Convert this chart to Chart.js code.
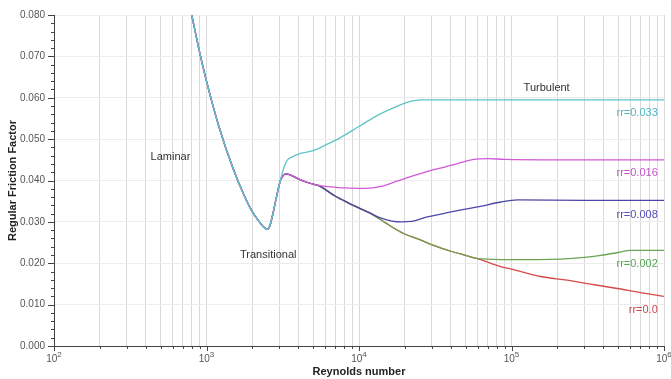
<!DOCTYPE html>
<html>
<head>
<meta charset="utf-8">
<script src="https://cdn.jsdelivr.net/npm/chart.js@4.4.1/dist/chart.umd.min.js"></script>
<style>
  html, body { margin: 0; padding: 0; background: #fff; }
</style>
</head>
<body>
<canvas id="friction-chart" width="671" height="379"></canvas>
<script>
// laminar branch and the dip through transition, same for every roughness
const reShared = [800, 900, 1000, 1200, 1500, 1800, 2000, 2200, 2350, 2500, 2600, 2750, 2900, 3050];
const fShared = [0.0800, 0.0711, 0.0640, 0.0533, 0.0427, 0.0357, 0.0324, 0.0302, 0.0289, 0.0282, 0.0290, 0.0326, 0.0366, 0.0400];

// roughest pipe climbs straight to its plateau
const reCyan = [3200, 3370, 3600, 4000, 5000, 6300, 7500, 8800, 11000, 13800, 17900, 21700, 25200, 40000, 100000, 400000, 1000000];
const fCyan = [0.0428, 0.0448, 0.0456, 0.0464, 0.0472, 0.0489, 0.0503, 0.0518, 0.0540, 0.0561, 0.0580, 0.0591, 0.0595, 0.0595, 0.0595, 0.0595, 0.0595];

// small hump after transition for the smoother pipes
const reHump = [3150, 3300, 3500, 4000, 4450, 5000, 5400];
const fHump = [0.0410, 0.0416, 0.0414, 0.0404, 0.0397, 0.0391, 0.0388];

const rePink = [6000, 8150, 11000, 14000, 17900, 22000, 29400, 36000, 44300, 56400, 69600, 90000, 200000, 1000000];
const fPink = [0.0386, 0.0382, 0.0381, 0.0386, 0.0399, 0.0410, 0.0424, 0.0432, 0.0441, 0.0451, 0.0453, 0.0451, 0.0450, 0.0450];

// falling branch shared by rr=0.008, 0.002 and smooth
const reDesc = [7000, 8500, 10200, 12000];
const fDesc = [0.0362, 0.0346, 0.0332, 0.0320];

const rePurple = [14000, 16500, 19000, 22000, 28000, 35800, 45000, 59900, 85000, 110000, 300000, 1000000];
const fPurple = [0.0309, 0.0302, 0.0300, 0.0301, 0.0312, 0.0320, 0.0328, 0.0336, 0.0348, 0.0353, 0.0352, 0.0352];

// rr=0.002 and smooth stay together down to about 6e4
const reLow = [15000, 19600, 25000, 30800, 40000, 50000, 60000];
const fLow = [0.0297, 0.0272, 0.0257, 0.0243, 0.0229, 0.0219, 0.0211];

const reGreen = [85000, 150000, 209000, 300000, 385000, 500000, 603000, 1000000];
const fGreen = [0.0209, 0.0209, 0.0210, 0.0214, 0.0219, 0.0226, 0.0231, 0.0231];

const reRed = [85000, 100000, 155000, 232000, 350000, 494000, 700000, 1000000];
const fRed = [0.0192, 0.0186, 0.0168, 0.0159, 0.0148, 0.0139, 0.0129, 0.0120];

const seriesNames = ['rr=0.033', 'rr=0.016', 'rr=0.008', 'rr=0.002', 'rr=0.0'];
const regionNames = ['Laminar', 'Transitional', 'Turbulent'];
const decadeExponents = ['2', '3', '4', '5', '6'];

const FONT = '"Liberation Sans", Arial, sans-serif';

function pts(xs, ys) {
  return xs.map((x, i) => ({ x: x, y: ys[i] }));
}

function line(name, color, parts) {
  let data = [];
  parts.forEach(p => { data = data.concat(pts(p[0], p[1])); });
  return {
    label: name,
    data: data,
    borderColor: color,
    backgroundColor: color,
    borderWidth: 1.3,
    pointRadius: 0,
    cubicInterpolationMode: 'monotone',
    fill: false
  };
}

const shared = [reShared, fShared];
const hump = [reHump, fHump];
const desc = [reDesc, fDesc];
const low = [reLow, fLow];

const datasets = [
  line(seriesNames[0], '#5ec3c6', [shared, [reCyan, fCyan]]),
  line(seriesNames[1], '#cf5ad6', [shared, hump, [rePink, fPink]]),
  line(seriesNames[2], '#4c47a8', [shared, hump, desc, [rePurple, fPurple]]),
  line(seriesNames[3], '#6aa552', [shared, hump, desc, low, [reGreen, fGreen]]),
  line(seriesNames[4], '#d64a4a', [shared, hump, desc, low, [reRed, fRed]])
];

// text placed in data space: [text, Re, f, color, align]
const notes = [
  [regionNames[0], 580, 0.0458, '#333', 'center'],
  [regionNames[1], 2540, 0.0219, '#333', 'center'],
  [regionNames[2], 170000, 0.0624, '#333', 'center'],
  [seriesNames[0], 910000, 0.0564, '#55b6c2', 'right'],
  [seriesNames[1], 910000, 0.0419, '#c455c8', 'right'],
  [seriesNames[2], 910000, 0.0316, '#5550b2', 'right'],
  [seriesNames[3], 910000, 0.0198, '#5aa55a', 'right'],
  [seriesNames[4], 910000, 0.0087, '#d04848', 'right']
];

const notesPlugin = {
  id: 'notes',
  afterDatasetsDraw(chart) {
    const ctx = chart.ctx;
    const x = chart.scales.x, y = chart.scales.y;
    ctx.save();
    ctx.font = '11px ' + FONT;
    ctx.textBaseline = 'middle';
    notes.forEach(n => {
      ctx.fillStyle = n[3];
      ctx.textAlign = n[4];
      ctx.fillText(n[0], x.getPixelForValue(n[1]), y.getPixelForValue(n[2]));
    });
    ctx.restore();
  }
};

// short tick marks outside the axes, longer ones on the labelled values,
// plus the 10^n labels with a raised exponent
const tickMarks = {
  id: 'tickMarks',
  afterDraw(chart) {
    const ctx = chart.ctx;
    const x = chart.scales.x, y = chart.scales.y;
    ctx.save();
    ctx.strokeStyle = '#444';
    ctx.lineWidth = 1;
    ctx.beginPath();
    x.ticks.forEach(t => {
      const px = Math.round(x.getPixelForValue(t.value)) + 0.5;
      const e = Math.log10(t.value);
      const len = Math.abs(e - Math.round(e)) < 1e-6 ? 5 : 3;
      ctx.moveTo(px, y.bottom);
      ctx.lineTo(px, y.bottom + len);
    });
    for (let i = 0; i <= 40; i++) {
      const py = Math.round(y.getPixelForValue(i * 0.002)) + 0.5;
      const len = i % 5 === 0 ? 6 : 3;
      ctx.moveTo(x.left, py);
      ctx.lineTo(x.left - len, py);
    }
    ctx.stroke();

    ctx.fillStyle = '#555';
    ctx.textBaseline = 'alphabetic';
    ctx.textAlign = 'left';
    decadeExponents.forEach((ex, i) => {
      const px = x.getPixelForValue(Math.pow(10, i + 2));
      ctx.font = '10px ' + FONT;
      const w1 = ctx.measureText('10').width;
      ctx.font = '8px ' + FONT;
      const w2 = ctx.measureText(ex).width;
      const left = px - (w1 + w2) / 2;
      ctx.font = '10px ' + FONT;
      ctx.fillText('10', left, y.bottom + 16);
      ctx.font = '8px ' + FONT;
      ctx.fillText(ex, left + w1, y.bottom + 11);
    });
    ctx.restore();
  }
};

new Chart(document.getElementById('friction-chart'), {
  type: 'line',
  data: { datasets: datasets },
  plugins: [notesPlugin, tickMarks],
  options: {
    responsive: false,
    animation: false,
    parsing: false,
    layout: { padding: { top: 14, right: 7, left: 0, bottom: 0 } },
    plugins: {
      legend: { display: false },
      tooltip: { enabled: false }
    },
    scales: {
      x: {
        type: 'logarithmic',
        min: 100,
        max: 1000000,
        border: { color: '#444' },
        grid: { color: '#d9d9d9', drawTicks: false },
        afterBuildTicks: (scale) => {
          const ticks = [];
          for (let d = 2; d < 6; d++) {
            for (let m = 1; m < 10; m++) ticks.push({ value: m * Math.pow(10, d) });
          }
          ticks.push({ value: 1000000 });
          scale.ticks = ticks;
        },
        ticks: {
          autoSkip: false,
          maxRotation: 0,
          callback: () => ''
        },
        title: {
          display: true,
          text: 'Reynolds number',
          color: '#222',
          font: { family: FONT, size: 11, weight: 'bold' },
          padding: { top: 2, bottom: 0 }
        },
        afterFit: (scale) => { scale.height = 33; }
      },
      y: {
        min: 0,
        max: 0.08,
        border: { color: '#444' },
        grid: { color: '#ececec', drawTicks: false },
        ticks: {
          stepSize: 0.01,
          padding: 9,
          color: '#555',
          font: { family: FONT, size: 10 },
          callback: (v) => v.toFixed(3)
        },
        title: {
          display: true,
          text: 'Regular Friction Factor',
          color: '#222',
          font: { family: FONT, size: 11, weight: 'bold' },
          padding: { top: 6, bottom: 0 }
        },
        afterFit: (scale) => { scale.width = 54; }
      }
    }
  }
});
</script>
</body>
</html>
